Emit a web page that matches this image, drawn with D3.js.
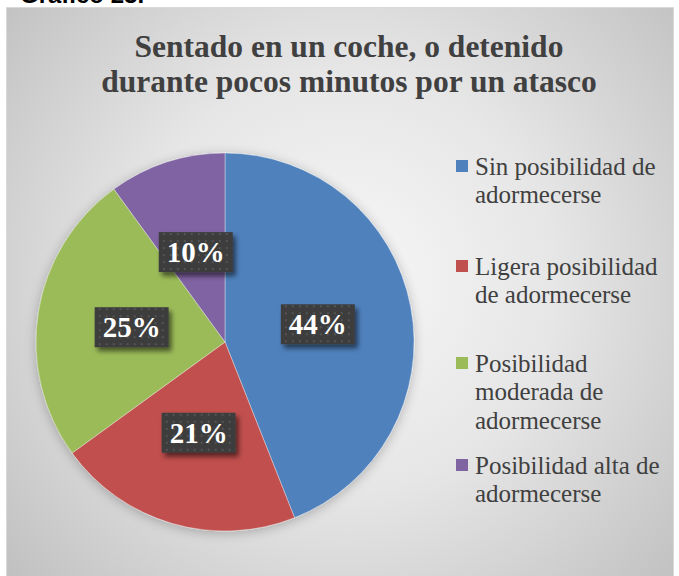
<!DOCTYPE html>
<html>
<head>
<meta charset="utf-8">
<script src="https://cdn.jsdelivr.net/npm/d3@7"></script>
<style>
html,body{margin:0;padding:0;background:#fff;}
svg{display:block;}
</style>
</head>
<body>
<svg id="chart" width="679" height="576"></svg>
<script>
const pageTitle = "Gráfico 23.";
const titleLines = ["Sentado en un coche, o detenido", "durante pocos minutos por un atasco"];
const categories = ["Sin posibilidad de adormecerse", "Ligera posibilidad de adormecerse", "Posibilidad moderada de adormecerse", "Posibilidad alta de adormecerse"];
const legendLines = [["Sin posibilidad de", "adormecerse"], ["Ligera posibilidad", "de adormecerse"], ["Posibilidad", "moderada de", "adormecerse"], ["Posibilidad alta de", "adormecerse"]];
const values = [44, 21, 25, 10];
const colors = ["#4F81BD", "#C0504D", "#9BBB59", "#8064A2"];

const svg = d3.select("#chart");
const defs = svg.append("defs");

const grad = defs.append("radialGradient").attr("id", "bg")
  .attr("gradientUnits", "userSpaceOnUse")
  .attr("cx", 345).attr("cy", 280).attr("r", 470);
grad.append("stop").attr("offset", "0%").attr("stop-color", "#f7f7f7");
grad.append("stop").attr("offset", "45%").attr("stop-color", "#e6e6e6");
grad.append("stop").attr("offset", "100%").attr("stop-color", "#bdbdbd");

const shadow = defs.append("filter").attr("id", "pieShadow")
  .attr("x", "-20%").attr("y", "-20%").attr("width", "140%").attr("height", "140%");
shadow.append("feGaussianBlur").attr("in", "SourceAlpha").attr("stdDeviation", 6).attr("result", "b");
shadow.append("feOffset").attr("in", "b").attr("dx", 0).attr("dy", 2).attr("result", "o");
shadow.append("feComponentTransfer").attr("in", "o").attr("result", "s")
  .append("feFuncA").attr("type", "linear").attr("slope", 0.25);
const m1 = shadow.append("feMerge");
m1.append("feMergeNode").attr("in", "s");
m1.append("feMergeNode").attr("in", "SourceGraphic");

const boxShadow = defs.append("filter").attr("id", "boxShadow")
  .attr("x", "-20%").attr("y", "-30%").attr("width", "150%").attr("height", "180%");
boxShadow.append("feGaussianBlur").attr("in", "SourceAlpha").attr("stdDeviation", 2.5).attr("result", "b");
boxShadow.append("feOffset").attr("in", "b").attr("dx", 3).attr("dy", 4).attr("result", "o");
boxShadow.append("feComponentTransfer").attr("in", "o").attr("result", "s")
  .append("feFuncA").attr("type", "linear").attr("slope", 0.55);
const m2 = boxShadow.append("feMerge");
m2.append("feMergeNode").attr("in", "s");
m2.append("feMergeNode").attr("in", "SourceGraphic");

const pat = defs.append("pattern").attr("id", "dots").attr("patternUnits", "userSpaceOnUse")
  .attr("width", 7).attr("height", 7);
pat.append("rect").attr("width", 7).attr("height", 7).attr("fill", "#3c3c3c");
pat.append("rect").attr("x", 2).attr("y", 2).attr("width", 2).attr("height", 2).attr("fill", "#555");

// page title (partly cut off, as in the source document)
svg.append("text").attr("x", 20).attr("y", 3)
  .attr("font-family", "Liberation Sans, Arial, sans-serif").attr("font-weight", "bold")
  .attr("font-size", 24).attr("fill", "#000").text(pageTitle);

// chart area
svg.append("rect").attr("x", 6.5).attr("y", 7.5).attr("width", 667).attr("height", 580)
  .attr("fill", "url(#bg)").attr("stroke", "#d9d9d9").attr("stroke-width", 1);

// title
const titleG = svg.append("text").attr("text-anchor", "middle")
  .attr("font-family", "Liberation Serif, serif").attr("font-weight", "bold")
  .attr("font-size", 31.5).attr("fill", "#404040");
titleLines.forEach((t, i) => {
  titleG.append("tspan").attr("x", 349).attr("y", 57 + i * 35).text(t);
});

// pie
const cx = 225, cy = 342, R = 189;
const pie = d3.pie().sort(null).value(d => d)(values);
const arc = d3.arc().innerRadius(0).outerRadius(R);
const color = d3.scaleOrdinal().domain(d3.range(values.length)).range(colors);
const g = svg.append("g").attr("transform", `translate(${cx},${cy})`);
const slices = g.append("g").attr("filter", "url(#pieShadow)");
slices.selectAll("path").data(pie).join("path")
  .attr("d", arc).attr("fill", (d, i) => color(i))
  .attr("stroke", "#ffffff").attr("stroke-width", 0.6).attr("stroke-opacity", 0.6);

// labels
const fmt = d3.format(".0%");
const total = d3.sum(values);
const lab = g.append("g").selectAll("g").data(pie).join("g")
  .attr("transform", d => { const c = arc.centroid(d); return `translate(${c[0]},${c[1]})`; });
lab.append("rect").attr("x", -37).attr("y", -20).attr("width", 74).attr("height", 40)
  .attr("fill", "url(#dots)").attr("filter", "url(#boxShadow)");
lab.append("text").attr("text-anchor", "middle").attr("dy", "0.35em")
  .attr("font-family", "Liberation Serif, serif").attr("font-weight", "bold")
  .attr("font-size", 29).attr("fill", "#ffffff")
  .text(d => fmt(d.data / total));

// legend
const legendY = [166, 266, 363, 465];
const lg = svg.append("g");
legendLines.forEach((lines, i) => {
  lg.append("rect").attr("x", 456).attr("y", legendY[i] - 6).attr("width", 12).attr("height", 12)
    .attr("fill", color(i));
  const t = lg.append("text").attr("font-family", "Liberation Serif, serif")
    .attr("font-size", 25).attr("fill", "#404040");
  lines.forEach((l, j) => {
    t.append("tspan").attr("x", 475).attr("y", legendY[i] + j * 28.5).attr("dy", "0.35em").text(l);
  });
});
</script>
</body>
</html>
